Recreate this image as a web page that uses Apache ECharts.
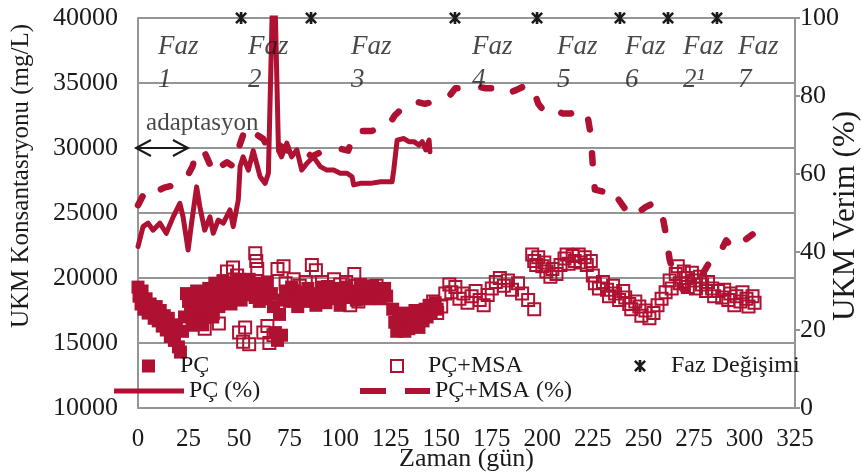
<!DOCTYPE html>
<html>
<head>
<meta charset="utf-8">
<script src="https://cdn.jsdelivr.net/npm/echarts@6/dist/echarts.min.js"></script>
<style>
  html, body { margin: 0; padding: 0; background: #ffffff; }
  #chart { width: 862px; height: 472px; }
</style>
</head>
<body>
<div id="chart"></div>
<script>
// ---- data: COD concentration (mg/L) per day ----
const pcConc = [
  [0,19300],[0.5,18600],[1.5,18000],[2,19000],[3,17600],[4,18400],[5,17300],[6,18000],[7,17600],[8,16900],
  [9,17800],[10,16700],[11,17500],[12,16300],[13,17100],[14,16000],[15,16900],[16,15500],[17,16400],[18,15200],
  [19,16100],[20,14700],[21,14300],[22,15900],[23,17000],[24,18800],[25,18200],[26,17500],[27,16500],[28,18300],
  [29,19000],[30,18000],[31,17200],[32,16400],[33,18600],[34,17700],[35,19200],[36,18200],[37,17000],[38,19600],
  [39,18700],[40,17800],[42,19800],[43,18600],[44,19200],[46,18000],[47,19600],[48,18900],[50,19900],[51,18300],
  [52,19300],[54,18700],[55,19900],[56,19100],[58,18500],[59,19600],[60,18200],[62,19000],[63,18400],[64,19700],
  [66,18800],[67,17800],[68,15800],[69,15200],[70,17200],[71,15600],[72,18300],[73,19000],[75,18200],[76,19300],
  [78,18600],[79,17800],[81,18900],[82,18200],[84,19200],[85,18400],[87,18800],[88,17900],[90,18600],[91,19300],
  [93,18100],[94,18900],[96,18400],[97,19200],[99,18600],[100,17900],[102,18800],[103,19300],[105,18500],[107,19000],
  [108,18300],[110,19500],[111,18700],[113,19100],[114,18400],[116,19400],[117,18700],[119,19000],[120,18400],[122,19200],
  [123,18600],[126,17600],[127,16600],[128,15900],[129,16900],[130,16200],[131,17300],[132,15900],[133,16700],[134,16100],
  [135,17100],[136,16400],[137,17500],[138,16800],[139,16200],[140,17300],[141,16700],[142,17600],[143,17000],[144,17900],
  [145,17300],[146,17700],[147,18100],[148,17600]
];
const msaConc = [
  [27,16400],[31,16800],[33,16100],[37,17300],[40,16500],[44,20500],[47,20800],[49,20200],[50,15800],[52,15100],
  [53,16200],[55,14900],[58,21900],[58.5,21300],[59,20700],[62,15800],[64,16300],[65,15000],[67,15600],[69,20700],
  [72,20900],[73,19600],[77,19900],[80,19400],[83,19700],[86,21000],[88,20600],[91,19700],[94,19300],[97,19900],
  [100,19500],[103,19700],[105,17900],[107,20300],[109,18200],[112,19200],[115,18600],[118,19400],[121,18800],
  [146,18200],[148,17300],[150,17800],[152,18800],[154,19500],[155,18900],[157,19300],[159,18400],[161,18800],[163,18100],
  [165,18600],[167,19000],[169,18300],[171,17900],[173,18700],[175,19200],[177,19700],[179,20000],[181,19400],[183,19800],
  [185,19100],[188,19600],[190,18800],[193,18300],[196,17600],
  [195,21800],[196,21300],[197,21000],[198,21600],[200,20900],[201,21200],[202,20500],[204,20100],[205,20700],[207,20300],
  [209,21000],[211,21500],[212,21800],[213,21100],[215,21700],[216,21300],[218,21800],[219,21200],[221,21600],[222,21000],
  [224,21300],[225,20200],[226,19600],[228,19200],[230,19700],[232,19100],[233,18600],[235,19400],[236,18800],[238,18300],
  [240,19000],[241,18500],[243,18000],[244,17600],[246,18200],[248,17800],[249,17100],[251,17500],[253,16900],[255,17300],
  [257,17900],[259,18400],[261,18900],[263,19800],[264,19200],[266,20300],[267,20900],[268,19600],[270,20500],[271,20000],
  [272,19300],[274,20400],[275,19800],[276,19200],[278,20100],[279,19500],[281,19000],[282,19700],[284,19200],[285,18600],
  [287,19000],[289,18500],[290,19100],[292,18300],[293,18800],[295,17900],[296,18600],[298,18200],[299,18900],[301,18400],
  [302,17800],[304,18600],[305,18100]
];

// ---- data: COD removal efficiency (%) per day ----
const pcEff = [
  [0,41.4],[2.5,46.5],[5,47.4],[7.4,45.6],[10.8,47.4],[14,44.8],[17.4,49],[20.7,52.5],[22.3,49],[24.8,40.5],
  [26.5,47.4],[29,56.7],[30.6,51.6],[33,45.6],[35.6,49],[37.2,44.8],[39.7,48.2],[42.2,47.4],[45.5,50.8],[47.1,46.5],
  [49.6,53.3],[50.5,61.9],[52,64.4],[54.6,61],[57,66],[60.4,59.3],[62.9,57.6],[64.5,60.2],[66.5,104],[67.8,104],
  [69.5,66],[71,64.4],[73.6,67.9],[76,64.4],[78.6,66.2],[81,61],[83.5,62.7],[86.8,64.4],[90.2,61.9],[93.4,61],
  [96.8,61],[100,60.2],[103.4,60.2],[105.9,59.3],[106.7,57.2],[110,57.6],[115,57.6],[120,58],[125.7,58],[126.5,61],
  [128.2,68.7],[131.5,69.1],[134,68.3],[136.5,68.3],[139,67.4],[140.6,68.3],[142.3,66.2],[144,68.7],[144.4,65.7]
];
const msaEff = [
  [0,52],[3,55],[6,54],[9,55.5],[13,56.5],[17,57],[21,58],[24,59],[27,62],[29,66],
  [33,65.5],[36,62],[38.5,60],[41,62],[44,63],[47,62],[50,67],[53,71.5],[56,72],[59,70],
  [62,69],[65,66],[68,68],[71,67],[74,66],[78,66.5],[82,66],[86,64.5],[90,65.5],[95,66.5],
  [100,66.5],[104,66],[107,70.5],[111,71],[115,71],[120,71.5],[124,72.5],[127,75],[130,76.5],[134,78.5],
  [138,78.5],[142,78],[146,78.5],[150,79],[154,80],[157,82],[162,82],[167,82.5],[172,82],[177,82],
  [182,80.5],[187,81.5],[191,82.5],[195,82.5],[198,78],[201,76],[205,77],[210,75.5],[214,75.5],[218,76],
  [222,76],[224,70],[225,62],[226,56],[230,55.5],[234,56.5],[237,54],[241,51],[244,49],[247,50],
  [251,51.5],[255,52.5],[259,50.5],[261,45],[263,38],[266,33],[270,30],[275,31],[280,35],[284,38.5],
  [288,40],[291,43],[294,41],[297,41.5],[300,43],[304,44.5]
];

// ---- phases ----
const phaseChangeDays = [51, 85.6, 156.8, 197.4, 238.4, 262.2, 286.4];
const phaseNumbers = ['1', '2', '3', '4', '5', '6', '2\u00b9', '7'];
const phaseLabelDays = [9.9, 54.4, 105.4, 165.2, 207.3, 240.9, 269.6, 296.8];
const phaseLabelLevel = 36500;
const adaptText = [[4, 31900, 'adaptasyon']];
const adaptArrow = [[-1, 30000], [24.7, 30000]];

// ---- style ----
const RED = '#AE1131';
const INK = '#1a1a1a';
const GRID = '#959595';
const SERIF = '"Liberation Serif", "Times New Roman", serif';
const STAR = 'path://M3.9 0H6.1V10H3.9Z M0 1.5L1.5 0L10 8.5L8.5 10Z M8.5 0L10 1.5L1.5 10L0 8.5Z';
const SQUARE = 'path://M0 0H10V10H0Z';
const SOLID_BAR = 'path://M0 0H70V5H0Z';
const DASH_BAR = 'path://M0 0H26V6H0Z M45 0H70V6H45Z';

const legendBase = {
  selectedMode: false, padding: 0, itemGap: 0, orient: 'horizontal',
  textStyle: { fontSize: 24, fontFamily: SERIF, color: INK }
};
// marker legends: icon box sized to the marker, label pushed right
const markerLegendText = { fontSize: 24, fontFamily: SERIF, color: INK, padding: [0, 0, 0, 20] };

const option = {
  animation: false,
  backgroundColor: '#ffffff',
  grid: { left: 138, right: 67, top: 18, bottom: 64, containLabel: false, outerBoundsMode: 'none' },
  xAxis: {
    type: 'value', min: 0, max: 325, interval: 25,
    axisLine: { show: true, onZero: false, lineStyle: { color: GRID, width: 2 } },
    axisTick: { show: false },
    splitLine: { show: false },
    axisLabel: { fontSize: 25, fontFamily: SERIF, color: INK, margin: 19 },
    name: 'Zaman (gün)', nameLocation: 'middle', nameGap: 38, nameMoveOverlap: false,
    nameTextStyle: { fontSize: 26, fontFamily: SERIF, color: INK }
  },
  yAxis: [
    {
      type: 'value', min: 10000, max: 40000, interval: 5000, position: 'left',
      axisLine: { show: true, lineStyle: { color: GRID, width: 2 } },
      axisTick: { show: false },
      splitLine: { show: true, lineStyle: { color: GRID, width: 2 } },
      axisLabel: { fontSize: 26, fontFamily: SERIF, color: INK, margin: 20, formatter: v => String(v) }
    },
    {
      type: 'value', min: 0, max: 100, interval: 20, position: 'right',
      axisLine: { show: true, lineStyle: { color: GRID, width: 2 } },
      axisTick: { show: true, inside: false, length: 5, lineStyle: { color: GRID, width: 2 } },
      splitLine: { show: false },
      axisLabel: { fontSize: 26, fontFamily: SERIF, color: INK, margin: 5 }
    }
  ],
  legend: [
    Object.assign({}, legendBase, {
      data: [{ name: 'PÇ', icon: SQUARE, itemStyle: { color: RED, borderWidth: 0, opacity: 1 } }],
      left: 142, top: 354, itemWidth: 13, itemHeight: 13, textStyle: markerLegendText
    }),
    Object.assign({}, legendBase, {
      data: [{ name: 'PÇ+MSA', icon: SQUARE, itemStyle: { color: 'rgba(0,0,0,0)', borderColor: RED, borderWidth: 2, opacity: 1 } }],
      left: 390, top: 354, itemWidth: 12, itemHeight: 12, textStyle: markerLegendText
    }),
    Object.assign({}, legendBase, {
      data: [{ name: 'Faz Değişimi', icon: STAR, itemStyle: { color: INK, borderWidth: 0, opacity: 1 } }],
      left: 634, top: 354, itemWidth: 12, itemHeight: 12, textStyle: markerLegendText
    }),
    Object.assign({}, legendBase, {
      data: [{ name: 'PÇ (%)', icon: SOLID_BAR, itemStyle: { color: RED, borderWidth: 0 } }],
      left: 114, top: 379, itemWidth: 70, itemHeight: 5
    }),
    Object.assign({}, legendBase, {
      data: [{ name: 'PÇ+MSA (%)', icon: DASH_BAR, itemStyle: { color: RED, borderWidth: 0 } }],
      left: 360, top: 379, itemWidth: 70, itemHeight: 6
    })
  ],
  graphic: [
    {
      type: 'text', id: 'titleLeft', x: 21, y: 176, rotation: Math.PI / 2,
      style: { text: 'UKM Konsantasryonu (mg/L)', font: '25px ' + SERIF, fill: INK, align: 'center', verticalAlign: 'middle' }
    },
    {
      type: 'text', id: 'titleRight', x: 846, y: 216, rotation: Math.PI / 2,
      style: { text: 'UKM Verim (%)', font: '31px ' + SERIF, fill: INK, align: 'center', verticalAlign: 'middle' }
    }
  ],
  series: [
    {
      name: 'PÇ', type: 'scatter', xAxisIndex: 0, yAxisIndex: 0,
      data: pcConc, symbol: 'rect', symbolSize: 13,
      itemStyle: { color: RED, opacity: 1 }, silent: true, z: 2
    },
    {
      name: 'PÇ+MSA', type: 'scatter', xAxisIndex: 0, yAxisIndex: 0,
      data: msaConc, symbol: 'rect', symbolSize: 12,
      itemStyle: { color: 'rgba(0,0,0,0)', borderColor: RED, borderWidth: 2, opacity: 1 }, silent: true, z: 2
    },
    {
      name: 'PÇ (%)', type: 'line', xAxisIndex: 0, yAxisIndex: 1,
      data: pcEff, symbol: 'none', silent: true, z: 3,
      itemStyle: { color: RED },
      lineStyle: { color: RED, width: 5, join: 'round', cap: 'round' }
    },
    {
      name: 'PÇ+MSA (%)', type: 'line', xAxisIndex: 0, yAxisIndex: 1,
      data: msaEff, symbol: 'none', silent: true, z: 3,
      itemStyle: { color: RED },
      lineStyle: { color: RED, width: 6.5, type: [10, 24], cap: 'round', join: 'round' }
    },
    {
      name: 'Faz Değişimi', type: 'scatter', xAxisIndex: 0, yAxisIndex: 0,
      data: phaseChangeDays.map(d => [d, 40000]), symbol: STAR, symbolSize: 12,
      itemStyle: { color: INK, opacity: 1 }, clip: false, silent: true, z: 4
    },
    {
      name: 'phaseText', type: 'scatter', xAxisIndex: 0, yAxisIndex: 0,
      data: phaseLabelDays.map((d, i) => [d, phaseLabelLevel, phaseNumbers[i]]),
      symbolSize: 1, itemStyle: { color: 'rgba(0,0,0,0)' }, silent: true, z: 5,
      label: {
        show: true, position: 'inside', align: 'left', verticalAlign: 'middle',
        formatter: p => '{f|Faz}\n{f|' + p.data[2] + '}',
        rich: { f: { fontSize: 27, fontStyle: 'italic', fontFamily: SERIF, color: INK, lineHeight: 33, align: 'left' } }
      }
    },
    {
      name: 'adaptText', type: 'scatter', xAxisIndex: 0, yAxisIndex: 0,
      data: adaptText, symbolSize: 1, itemStyle: { color: 'rgba(0,0,0,0)' }, silent: true, z: 5,
      label: {
        show: true, position: 'inside', align: 'left', verticalAlign: 'middle',
        formatter: p => p.data[2],
        fontSize: 25, fontFamily: SERIF, color: INK
      }
    }
  ]
};

const chart = echarts.init(document.getElementById('chart'), null, { renderer: 'canvas' });
chart.setOption(option);

// double-headed arrow marking the adaptation period
const a = chart.convertToPixel({ xAxisIndex: 0, yAxisIndex: 0 }, adaptArrow[0]);
const b = chart.convertToPixel({ xAxisIndex: 0, yAxisIndex: 0 }, adaptArrow[1]);
const headLen = 15, headHalf = 8;
const arrowStyle = { stroke: INK, lineWidth: 2, fill: null };
chart.setOption({
  graphic: [
    { type: 'line', id: 'arrowShaft', z: 10, shape: { x1: a[0], y1: a[1], x2: b[0], y2: b[1] }, style: arrowStyle },
    { type: 'polyline', id: 'arrowHeadL', z: 10,
      shape: { points: [[a[0] + headLen, a[1] - headHalf], [a[0], a[1]], [a[0] + headLen, a[1] + headHalf]] }, style: arrowStyle },
    { type: 'polyline', id: 'arrowHeadR', z: 10,
      shape: { points: [[b[0] - headLen, b[1] - headHalf], [b[0], b[1]], [b[0] - headLen, b[1] + headHalf]] }, style: arrowStyle }
  ]
});
</script>
</body>
</html>
